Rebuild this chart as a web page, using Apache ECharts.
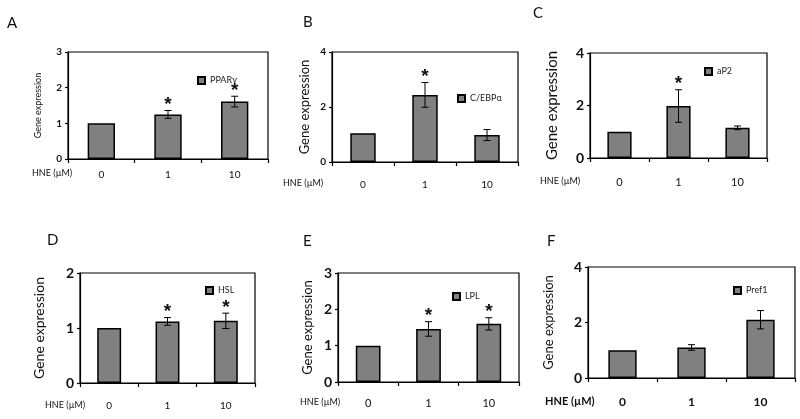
<!DOCTYPE html>
<html><head><meta charset="utf-8">
<script src="https://cdn.jsdelivr.net/npm/echarts@6/dist/echarts.min.js"></script>
<style>html,body{margin:0;padding:0;background:#fff}#c{width:800px;height:419px}</style>
</head><body><div id="c"></div>
<script>
// ---- data ----
const categories = ['0', '1', '10'];
const genes = ['PPARγ', 'C/EBPα', 'aP2', 'HSL', 'LPL', 'Pref1'];
const letters = ['A', 'B', 'C', 'D', 'E', 'F'];
const yMax = [3, 4, 4, 2, 3, 4];
const yStep = [1, 2, 2, 1, 1, 2];
const meanA = [1.0, 1.25, 1.61], errA = [0, 0.11, 0.15], sigA = [0, 1, 1];
const meanB = [1.05, 2.44, 0.98], errB = [0, 0.45, 0.2], sigB = [0, 1, 0];
const meanC = [1.0, 1.98, 1.15], errC = [0, 0.62, 0.07], sigC = [0, 1, 0];
const meanD = [1.0, 1.12, 1.13], errD = [0, 0.07, 0.14], sigD = [0, 1, 1];
const meanE = [1.0, 1.46, 1.6], errE = [0, 0.2, 0.17], sigE = [0, 1, 1];
const meanF = [1.0, 1.1, 2.1], errF = [0, 0.1, 0.33], sigF = [0, 0, 0];
const means = [meanA, meanB, meanC, meanD, meanE, meanF];
const errs = [errA, errB, errC, errD, errE, errF];
const sigs = [sigA, sigB, sigC, sigD, sigE, sigF];

// ---- layout (positions/styles) ----
const L = [
  {l:68, t:52, w:200, h:107, tf:10, nf:9, ng:25, cm:11, cf:10, hx:32, hy:175, lx:7, ly:25, gx:197, gy:76, gf:9},
  {l:332,t:52, w:186, h:110, tf:10, nf:13, ng:21, cm:18, cf:10, hx:283,hy:185, lx:303,ly:24, gx:457, gy:94, gf:9},
  {l:590,t:53, w:177, h:105, tf:14, nf:15, ng:30, cm:19, cf:11, hx:540,hy:183, lx:533,ly:15, gx:704, gy:67, gf:9},
  {l:80, t:273,w:175, h:110, tf:14, nf:14, ng:34, cm:18, cf:10, hx:45, hy:407, lx:47, ly:242, gx:205, gy:286, gf:9},
  {l:338,t:273,w:181, h:109, tf:14, nf:13, ng:24, cm:16, cf:11, hx:300,hy:404, lx:303,ly:243, gx:452, gy:292, gf:9},
  {l:588,t:267,w:207, h:111, tf:14, nf:13, ng:33, cm:18, cf:12, hx:545,hy:402, lx:547,ly:243, gx:733, gy:286, gf:9}
];
const FONT = 'Lato, "Liberation Sans", sans-serif';
const grid = [], xAxis = [], yAxis = [], series = [], legend = [], graphic = [], title = [];

L.forEach((p, i) => {
  grid.push({left: p.l, top: p.t, width: p.w, height: p.h, show: true, borderColor: '#000', borderWidth: 1.2, containLabel: false});
  xAxis.push({type: 'category', gridIndex: i, data: categories,
    axisLine: {lineStyle: {color: '#000', width: 1.2}},
    axisTick: {show: true, interval: 0, length: 4, lineStyle: {color: '#000', width: 1.2}},
    axisLabel: {color: '#111', fontSize: p.cf, margin: p.cm, fontFamily: FONT, fontWeight: i === 5 ? 'bold' : 'normal'}});
  yAxis.push({type: 'value', gridIndex: i, min: 0, max: yMax[i], interval: yStep[i],
    name: 'Gene expression', nameLocation: 'middle', nameRotate: 90, nameGap: p.ng,
    nameTextStyle: {fontSize: p.nf, color: '#111', fontFamily: FONT},
    axisLine: {show: true, lineStyle: {color: '#000', width: 1.2}},
    axisTick: {show: true, length: 3, lineStyle: {color: '#000', width: 1.2}},
    splitLine: {show: false},
    axisLabel: {color: '#111', fontSize: p.tf, fontWeight: 'bold', margin: 6, fontFamily: FONT}});
  series.push({type: 'bar', name: genes[i], xAxisIndex: i, yAxisIndex: i, data: means[i],
    barWidth: '41%', itemStyle: {color: '#808080', borderColor: '#000', borderWidth: 1.5}});
  const m = means[i], e = errs[i], s = sigs[i];
  series.push({type: 'custom', xAxisIndex: i, yAxisIndex: i, silent: true, z: 5,
    data: categories.map((c, k) => [k, m[k], e[k], s[k]]),
    renderItem: (params, api) => {
      const k = api.value(0), v = api.value(1), er = api.value(2), sg = api.value(3);
      const top = api.coord([k, v + er]), bot = api.coord([k, v - er]);
      const x = top[0], hw = 3.5;
      const children = [];
      if (er > 0) {
        const ls = {stroke: '#000', lineWidth: 1};
        children.push({type: 'line', shape: {x1: x, y1: top[1], x2: x, y2: bot[1]}, style: ls});
        children.push({type: 'line', shape: {x1: x - hw, y1: top[1], x2: x + hw, y2: top[1]}, style: ls});
        children.push({type: 'line', shape: {x1: x - hw, y1: bot[1], x2: x + hw, y2: bot[1]}, style: ls});
      }
      if (sg) {
        children.push({type: 'text', x: x, y: top[1] + 4, style: {text: '*', fontSize: 19, fontWeight: 'bold',
          fontFamily: 'Liberation Sans, sans-serif', fill: '#111', align: 'center', verticalAlign: 'bottom', lineHeight: 19}});
      }
      return {type: 'group', children};
    }});
  legend.push({data: [genes[i]], left: p.gx, top: p.gy, padding: 0, icon: 'rect', itemWidth: 7, itemHeight: 7,
    itemGap: 2, selectedMode: false, textStyle: {fontSize: p.gf, color: '#222', fontFamily: FONT}});
  title.push({text: letters[i], left: p.lx, top: p.ly - 9, padding: 0,
    textStyle: {fontSize: 15, fontWeight: 'normal', color: '#111', fontFamily: FONT}});
  graphic.push({type: 'text', left: p.hx, top: p.hy - 6,
    style: {text: 'HNE (µM)', fontSize: i === 5 ? 11 : 9, fontWeight: i === 5 ? 'bold' : 'normal', fill: '#111', fontFamily: FONT}});
});

const chart = echarts.init(document.getElementById('c'), null, {renderer: 'canvas'});
chart.setOption({animation: false, backgroundColor: '#fff', title, grid, xAxis, yAxis, series, legend, graphic});
</script></body></html>
